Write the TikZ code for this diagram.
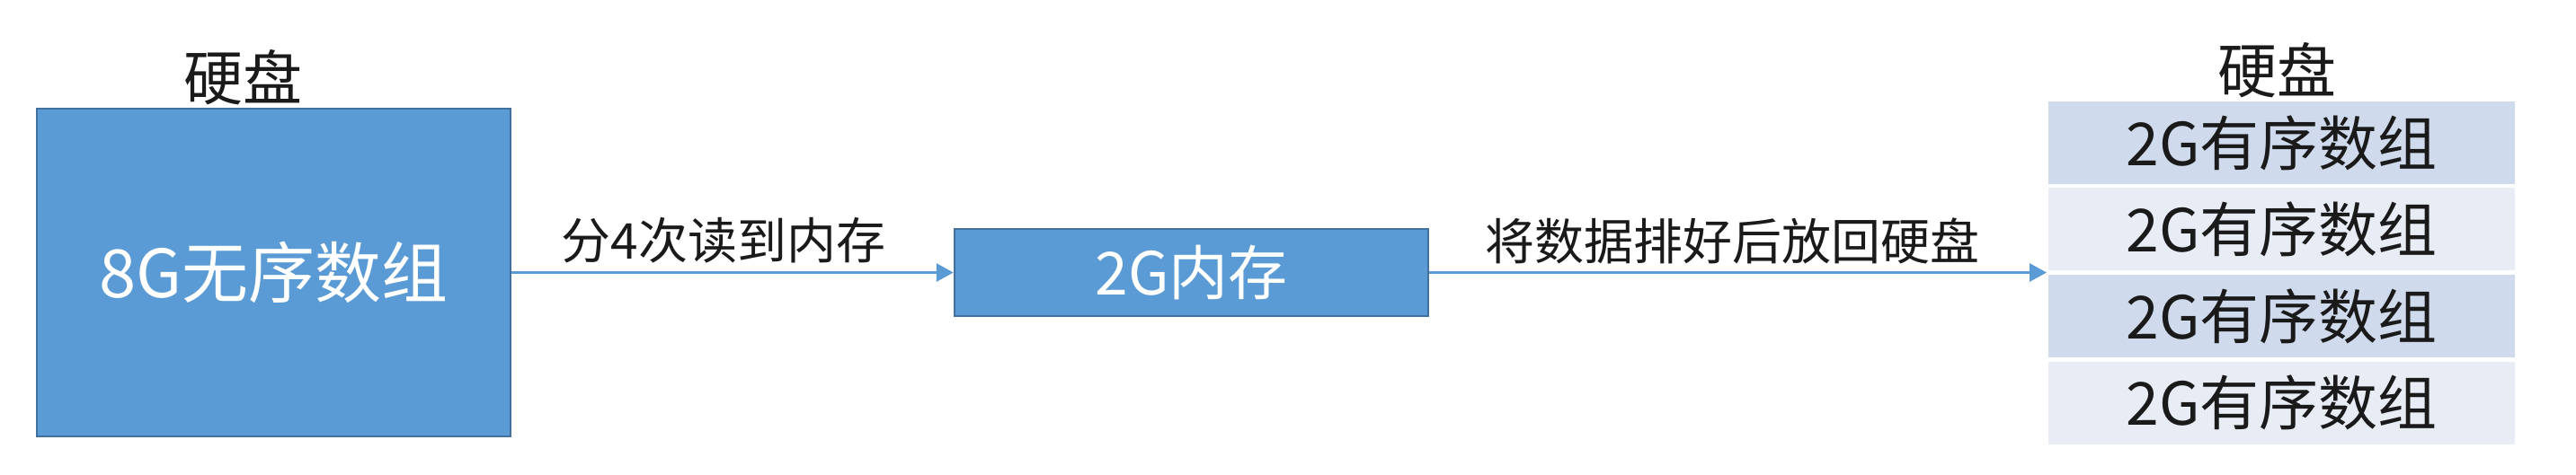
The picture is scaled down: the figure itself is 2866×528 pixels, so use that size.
\documentclass[tikz,border=0pt]{standalone}
\usepackage{fontspec}
\setmainfont{Noto Sans CJK SC}
\usetikzlibrary{arrows.meta}
\definecolor{boxblue}{HTML}{5B9BD5}
\definecolor{boxedge}{HTML}{41719C}
\definecolor{rowdark}{HTML}{CFDAEC}
\definecolor{rowlight}{HTML}{E8ECF5}
\definecolor{inktext}{HTML}{1A1A1A}
\tikzset{
  bluebox/.style={draw=boxedge, line width=2.5pt, fill=boxblue, text=white, inner sep=0pt},
  rowbox/.style={minimum width=519pt, minimum height=92pt, inner sep=0pt, text=inktext,
                 font=\fontsize{66}{70}\selectfont},
  title/.style={text=inktext, inner sep=0pt, font=\fontsize{66}{70}\selectfont},
  lbl/.style={text=inktext, inner sep=0pt, font=\fontsize{55}{60}\selectfont},
  flow/.style={draw=boxblue, line width=3pt, -{Triangle[length=19pt,width=20pt]}}
}
\begin{document}
\begin{tikzpicture}[x=1pt,y=-1pt]
\useasboundingbox[fill=white] (0,0) rectangle (2866,528);
% left disk
\node[title] (t1) at (270,86) {硬盘};
\node[bluebox, minimum width=527pt, minimum height=365pt,
      font=\fontsize{74}{80}\selectfont] (disk) at (304.5,303.5) {8G无序数组};
% memory
\node[bluebox, minimum width=527pt, minimum height=97pt,
      font=\fontsize{66}{70}\selectfont] (mem) at (1325.5,303.5) {2G内存};
% right disk
\node[title] (t2) at (2533,78) {硬盘};
\node[rowbox, fill=rowdark]  (r1) at (2538.5,159)   {2G有序数组};
\node[rowbox, fill=rowlight] (r2) at (2538.5,255)   {2G有序数组};
\node[rowbox, fill=rowdark]  (r3) at (2538.5,352)   {2G有序数组};
\node[rowbox, fill=rowlight] (r4) at (2538.5,448.5) {2G有序数组};
\coordinate (stackin) at (2277,303.5);
% connectors
\draw[flow] (disk.east |- mem.west) -- (mem.west);
\draw[flow] (mem.east) -- (stackin);
% labels
\node[lbl] (l1) at (805,268) {分4次读到内存};
\node[lbl] (l2) at (1927,268) {将数据排好后放回硬盘};
\end{tikzpicture}
\end{document}
